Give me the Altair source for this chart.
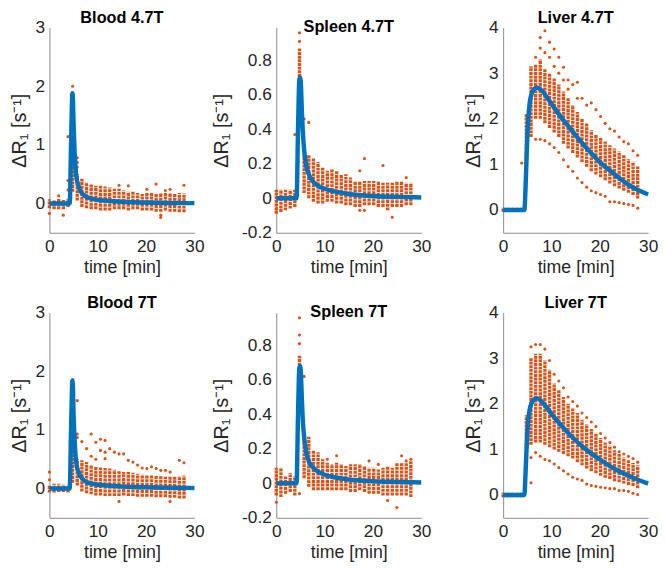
import altair as alt
import pandas as pd

ORANGE = "#D95319"
BLUE = "#0072BD"
FONT = "Liberation Sans"

# sampling times of the scatter columns [min]
T = [0.0, 0.96, 1.92, 2.88, 3.84, 4.8, 5.76, 6.72, 7.68, 8.64, 9.6, 10.56, 11.52, 12.48, 13.44,
     14.4, 15.36, 16.32, 17.28, 18.24, 19.2, 20.16, 21.12, 22.08, 23.04, 24.0, 24.96, 25.92, 26.88, 27.84]

# ---------------- Blood 4.7T ----------------
B47_LO = [-0.08, -0.1, -0.1, -0.1, -0.06, 0.2, 0.05, -0.06, -0.08, -0.1, -0.1, -0.12, -0.12, -0.12, -0.1,
          -0.1, -0.1, -0.12, -0.1, -0.1, -0.12, -0.12, -0.12, -0.14, -0.14, -0.12, -0.14, -0.14, -0.15, -0.15]
B47_HI = [0.07, 0.05, 0.08, 0.06, 0.08, 0.9, 0.5, 0.42, 0.36, 0.33, 0.3, 0.3, 0.29, 0.27, 0.25,
          0.25, 0.22, 0.2, 0.2, 0.18, 0.16, 0.18, 0.18, 0.16, 0.18, 0.18, 0.18, 0.16, 0.18, 0.17]
B47_OT = [0.0, 2.88, 1.92, 3.84, 3.84, 3.84, 4.8, 5.76, 5.76, 5.76, 14.4, 16.32, 20.16, 22.08, 24.0, 24.96, 27.84, 23.04, 23.04]
B47_OV = [-0.17, -0.2, 0.13, 1.14, 0.39, 0.23, 2.0, 0.78, 0.7, 0.62, 0.31, 0.3, 0.24, 0.33, 0.22, 0.24, 0.31, -0.24, -0.2]
B47_FT = [0, 4.2, 4.45, 4.6, 4.75, 4.85, 5.0, 5.2, 5.5, 6.0, 6.5, 7.0, 8.0, 10, 12, 15, 20, 25, 30]
B47_FV = [0, 0, 0.9, 1.5, 1.88, 1.8, 1.35, 0.9, 0.5, 0.3, 0.2, 0.15, 0.1, 0.06, 0.045, 0.03, 0.015, 0.008, 0.005]

# ---------------- Spleen 4.7T ----------------
S47_LO = [-0.09, -0.08, -0.07, -0.06, -0.05, 0.45, 0.03, 0.0, -0.02, -0.03, -0.03, -0.02, -0.02, -0.03, -0.03,
          -0.04, -0.04, -0.05, -0.05, -0.04, -0.04, -0.04, -0.05, -0.05, -0.07, -0.05, -0.05, -0.05, -0.04, -0.04]
S47_HI = [0.05, 0.05, 0.05, 0.05, 0.05, 0.87, 0.25, 0.25, 0.23, 0.21, 0.18, 0.16, 0.17, 0.16, 0.14,
          0.14, 0.12, 0.1, 0.1, 0.1, 0.1, 0.1, 0.1, 0.09, 0.09, 0.09, 0.1, 0.1, 0.09, 0.09]
S47_OT = [3.84, 4.8, 4.8, 5.76, 6.72, 17.28, 17.28, 18.24, 18.24, 22.08, 24.0, 26.88]
S47_OV = [0.37, 0.96, 0.91, 0.46, 0.44, 0.16, -0.07, 0.23, -0.07, 0.19, -0.11, 0.12]
S47_FT = [0, 4.2, 4.5, 4.75, 4.9, 5.05, 5.3, 5.5, 5.8, 6.2, 6.7, 7.5, 8.5, 10, 12, 15, 20, 25, 30]
S47_FV = [0, 0, 0.4, 0.68, 0.7, 0.68, 0.5, 0.38, 0.27, 0.19, 0.14, 0.1, 0.075, 0.055, 0.04, 0.025, 0.013, 0.008, 0.005]

# ---------------- Liver 4.7T ----------------
L47_LO = [-0.04, -0.04, -0.04, -0.04, -0.04, 1.0, 1.6, 2.0, 2.0, 1.9, 1.8, 1.7, 1.6, 1.45, 1.35,
          1.25, 1.15, 1.05, 0.95, 0.85, 0.78, 0.72, 0.65, 0.58, 0.52, 0.47, 0.42, 0.38, 0.33, 0.25]
L47_HI = [0.05, 0.05, 0.05, 0.05, 0.05, 2.1, 3.15, 3.2, 3.3, 3.1, 3.0, 2.9, 2.75, 2.6, 2.45,
          2.3, 2.15, 2.0, 1.9, 1.75, 1.65, 1.58, 1.5, 1.42, 1.35, 1.28, 1.2, 1.12, 1.06, 0.97]
L47_OT = [3.84, 6.72, 6.72, 7.68, 7.68, 7.68, 8.64, 8.64, 8.64, 9.6, 9.6, 9.6, 10.56, 10.56, 10.56,
          11.52, 11.52, 11.52, 12.48, 12.48, 12.48, 13.44, 13.44, 13.44, 14.4, 14.4, 15.36, 15.36, 15.36,
          16.32, 16.32, 17.28, 17.28, 18.24, 18.24, 19.2, 19.2, 20.16, 20.16, 21.12, 21.12, 22.08, 22.08,
          23.04, 23.04, 24.0, 24.0, 24.96, 24.96, 25.92, 25.92, 26.88, 26.88, 27.84, 27.84]
L47_OV = [1.03, 3.35, 1.55, 3.78, 3.55, 1.55, 3.93, 3.45, 1.52, 3.68, 3.35, 1.45, 3.53, 3.15, 1.37,
          3.35, 3.0, 1.26, 3.13, 2.85, 1.1, 2.85, 2.65, 0.95, 2.75, 0.85, 2.8, 2.45, 0.7,
          2.45, 0.6, 2.3, 0.5, 2.35, 0.42, 2.2, 0.38, 2.05, 0.34, 1.9, 0.3,
          1.78, 0.18, 1.73, 0.18, 1.6, 0.16, 1.5, 0.14, 1.45, 0.12, 1.3, 0.1, 1.2, 0.04]
L47_FT = [0, 4.4, 4.6, 4.8, 5.0, 5.2, 5.5, 5.9, 6.4, 7.0, 8, 9, 10, 12, 14, 16, 18, 20, 22, 24, 26, 28, 30]
L47_FV = [0, 0, 0.4, 1.0, 1.6, 2.0, 2.35, 2.55, 2.65, 2.68, 2.62, 2.48, 2.33, 2.03, 1.77, 1.51, 1.27,
          1.05, 0.87, 0.7, 0.55, 0.43, 0.34]

# ---------------- Blood 7T ----------------
B7_LO = [-0.07, -0.07, -0.06, -0.06, -0.07, 0.1, 0.05, -0.05, -0.08, -0.1, -0.12, -0.12, -0.13, -0.13, -0.13,
         -0.13, -0.12, -0.13, -0.13, -0.14, -0.14, -0.14, -0.14, -0.15, -0.15, -0.15, -0.16, -0.16, -0.17, -0.17]
B7_HI = [0.06, 0.08, 0.08, 0.07, 0.06, 1.0, 0.5, 0.48, 0.45, 0.4, 0.37, 0.36, 0.35, 0.34, 0.32,
         0.3, 0.28, 0.28, 0.27, 0.25, 0.24, 0.23, 0.23, 0.22, 0.21, 0.2, 0.2, 0.2, 0.21, 0.22]
B7_OT = [0.0, 0.0, 4.8, 5.76, 5.76, 5.76, 6.72, 7.68, 8.64, 8.64, 9.6, 9.6, 10.56, 10.56, 11.52, 11.52, 11.52,
         12.48, 13.44, 14.4, 15.36, 16.32, 17.28, 18.24, 19.2, 20.16, 21.12, 22.08, 23.04, 24.0, 24.96,
         26.88, 27.84, 14.4, 24.96]
B7_OV = [0.28, 0.15, 1.86, 1.5, 0.93, 0.87, 0.8, 0.68, 0.93, 0.55, 0.79, 0.5, 0.84, 0.65, 0.82, 0.62, 0.51,
         0.68, 0.62, 0.59, 0.59, 0.48, 0.45, 0.4, 0.35, 0.34, 0.37, 0.34, 0.31, 0.31, 0.28,
         0.48, 0.44, -0.22, -0.22]
B7_FT = [0, 4.2, 4.45, 4.6, 4.75, 4.85, 5.0, 5.2, 5.5, 6.0, 6.5, 7.0, 8.0, 10, 12, 15, 20, 25, 30]
B7_FV = [0, 0, 0.9, 1.45, 1.84, 1.75, 1.25, 0.85, 0.47, 0.28, 0.2, 0.15, 0.1, 0.065, 0.05, 0.035, 0.02, 0.012, 0.01]

# ---------------- Spleen 7T ----------------
S7_LO = [-0.07, -0.08, -0.06, -0.05, -0.07, 0.45, 0.03, -0.02, -0.04, -0.04, -0.04, -0.04, -0.04, -0.04, -0.04,
         -0.04, -0.05, -0.05, -0.04, -0.05, -0.06, -0.06, -0.06, -0.07, -0.07, -0.07, -0.07, -0.07, -0.07, -0.08]
S7_HI = [0.09, 0.09, 0.04, 0.06, 0.04, 0.74, 0.27, 0.27, 0.19, 0.18, 0.14, 0.12, 0.11, 0.12, 0.11,
         0.1, 0.11, 0.11, 0.11, 0.1, 0.09, 0.09, 0.08, 0.09, 0.1, 0.09, 0.12, 0.12, 0.12, 0.13]
S7_OT = [0.0, 4.8, 4.8, 4.8, 4.8, 5.76, 10.56, 12.48, 19.2, 21.12, 23.04, 24.96, 25.92, 26.88, 27.84]
S7_OV = [-0.11, 0.96, 0.86, 0.81, -0.06, 0.62, 0.14, 0.16, 0.13, 0.11, -0.1, -0.14, 0.16, 0.13, 0.14]
S7_FT = [0, 4.2, 4.5, 4.75, 4.9, 5.05, 5.3, 5.5, 5.8, 6.2, 6.7, 7.5, 8.5, 10, 12, 15, 20, 25, 30]
S7_FV = [0, 0, 0.4, 0.66, 0.68, 0.66, 0.48, 0.36, 0.26, 0.18, 0.13, 0.095, 0.07, 0.05, 0.035, 0.022, 0.012, 0.008, 0.005]

# ---------------- Liver 7T ----------------
L7_LO = [-0.05, -0.05, -0.05, -0.05, -0.05, 1.0, 1.1, 1.15, 1.15, 1.1, 1.05, 1.0, 0.95, 0.9, 0.85,
         0.8, 0.72, 0.65, 0.58, 0.52, 0.48, 0.42, 0.38, 0.35, 0.3, 0.28, 0.25, 0.22, 0.2, 0.15]
L7_HI = [0.05, 0.05, 0.05, 0.05, 0.05, 1.75, 3.0, 3.1, 3.1, 2.95, 2.75, 2.45, 2.3, 2.15, 2.0,
         1.9, 1.8, 1.65, 1.55, 1.45, 1.35, 1.25, 1.15, 1.08, 0.98, 0.9, 0.82, 0.76, 0.7, 0.65]
L7_OT = [5.76, 5.76, 5.76, 6.72, 6.72, 7.68, 7.68, 8.64, 8.64, 9.6, 9.6, 10.56, 10.56, 11.52, 11.52,
         12.48, 12.48, 13.44, 13.44, 14.4, 14.4, 15.36, 15.36, 16.32, 16.32, 17.28, 17.28, 18.24, 18.24,
         19.2, 19.2, 20.16, 20.16, 21.12, 21.12, 22.08, 22.08, 23.04, 23.04, 24.0, 24.0, 24.96, 24.96,
         25.92, 25.92, 26.88, 26.88, 27.84, 27.84]
L7_OV = [3.25, 0.82, 0.27, 3.3, 0.93, 3.3, 0.85, 3.2, 0.78, 2.95, 0.75, 2.65, 0.68, 2.5, 0.6,
         2.35, 0.53, 2.15, 0.46, 2.05, 0.39, 1.95, 0.35, 1.8, 0.32, 1.7, 0.24, 1.6, 0.21,
         1.5, 0.19, 1.35, 0.17, 1.25, 0.16, 1.15, 0.14, 1.05, 0.14, 0.95, 0.1, 0.9, 0.1,
         0.85, 0.08, 0.8, 0.04, 0.72, 0.01]
L7_FT = [0, 4.4, 4.6, 4.8, 5.0, 5.2, 5.5, 5.9, 6.4, 7.0, 8, 9, 10, 12, 14, 16, 18, 20, 22, 24, 26, 28, 30]
L7_FV = [0, 0, 0.4, 0.9, 1.35, 1.65, 1.88, 2.02, 2.1, 2.12, 2.05, 1.92, 1.78, 1.53, 1.3, 1.1, 0.93,
         0.78, 0.64, 0.52, 0.42, 0.33, 0.25]

X_TICKS = [0, 10, 20, 30]
BL_TICKS = [0, 1, 2, 3]
SP_TICKS = [-0.2, 0, 0.2, 0.4, 0.6, 0.8]
LV_TICKS = [0, 1, 2, 3, 4]
BL_DOM = [-0.5, 3]
SP_DOM = [-0.2, 0.99]
LV_DOM = [-0.5, 4]

YTITLE = "ΔR₁ [s⁻¹]"
W, H = 147, 208


def panel(title, lo, hi, ot, ov, ft, fv, ydom, yticks, title_x):
    cols = pd.DataFrame({"t": T, "lo": lo, "hi": hi})
    outs = pd.DataFrame({"t": ot, "v": ov})
    fit = pd.DataFrame({"t": ft, "v": fv})
    xs = alt.Scale(domain=[0, 30], nice=False, zero=False)
    ys = alt.Scale(domain=ydom, nice=False, zero=False)
    xax = alt.Axis(values=X_TICKS, title="time [min]", labelFlush=False)
    yax = alt.Axis(values=yticks, title=YTITLE, labelExpr="'' + datum.value", labelFlush=False,
                   titleX=title_x, titleY=H / 2)
    core = alt.Chart(cols).mark_rule(color=ORANGE, strokeWidth=3.4, strokeCap="butt",
                                     strokeDash=[3, 0.7]).encode(
        x=alt.X("t:Q", scale=xs, axis=xax),
        y=alt.Y("lo:Q", scale=ys, axis=yax),
        y2="hi:Q",
    )
    pts = alt.Chart(outs).mark_circle(color=ORANGE, size=10, opacity=1).encode(
        x=alt.X("t:Q", scale=xs, axis=xax),
        y=alt.Y("v:Q", scale=ys, axis=yax),
    )
    line = alt.Chart(fit).mark_line(color=BLUE, strokeWidth=4.5, interpolate="monotone").encode(
        x=alt.X("t:Q", scale=xs, axis=xax),
        y=alt.Y("v:Q", scale=ys, axis=yax),
    )
    return alt.layer(core, pts, line).properties(
        width=W, height=H,
        title=alt.TitleParams(title, fontSize=16.5, fontWeight="bold", font=FONT, color="#000000",
                              anchor="middle", offset=-8, frame="group"),
    )


charts = [
    panel("Blood 4.7T", B47_LO, B47_HI, B47_OT, B47_OV, B47_FT, B47_FV, BL_DOM, BL_TICKS, -20),
    panel("Spleen 4.7T", S47_LO, S47_HI, S47_OT, S47_OV, S47_FT, S47_FV, SP_DOM, SP_TICKS, -45),
    panel("Liver 4.7T", L47_LO, L47_HI, L47_OT, L47_OV, L47_FT, L47_FV, LV_DOM, LV_TICKS, -20),
    panel("Blood 7T", B7_LO, B7_HI, B7_OT, B7_OV, B7_FT, B7_FV, BL_DOM, BL_TICKS, -20),
    panel("Spleen 7T", S7_LO, S7_HI, S7_OT, S7_OV, S7_FT, S7_FV, SP_DOM, SP_TICKS, -45),
    panel("Liver 7T", L7_LO, L7_HI, L7_OT, L7_OV, L7_FT, L7_FV, LV_DOM, LV_TICKS, -20),
]

chart = alt.concat(*charts, columns=3, spacing={"row": 81, "column": 83}, bounds="flush").properties(
    padding={"left": 2, "top": -2, "right": 0, "bottom": 0}
).configure_view(strokeWidth=0).configure_axis(
    grid=False,
    domainColor="#8a8a8a",
    domainWidth=1,
    ticks=False,
    labelFont=FONT,
    titleFont=FONT,
    labelFontSize=17.5,
    titleFontSize=18,
    titleFontWeight="normal",
    labelColor="#262626",
    titleColor="#262626",
).configure_axisX(labelPadding=5, titlePadding=4).configure_axisY(
    labelPadding=5, titleFontSize=20)

chart.save("out.html", embed_options={"renderer": "svg", "actions": False})
